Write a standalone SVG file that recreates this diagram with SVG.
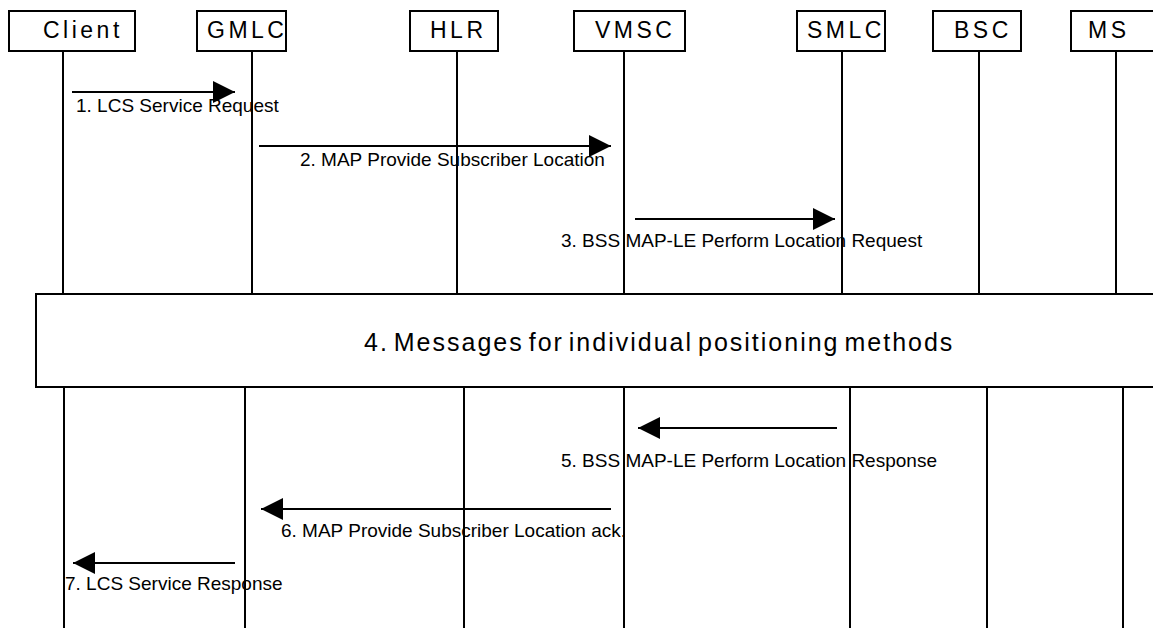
<svg xmlns="http://www.w3.org/2000/svg" width="1153" height="628" viewBox="0 0 1153 628">
<style>
.box{fill:#fff;stroke:#000;stroke-width:2}
.life{stroke:#000;stroke-width:2;fill:none}
.hdr{font-family:"Liberation Sans",Arial,sans-serif;font-size:23px;letter-spacing:3.5px;fill:#000}
.lbl{font-family:"Liberation Sans",Arial,sans-serif;font-size:19px;fill:#000}
.big{font-family:"Liberation Sans",Arial,sans-serif;font-size:25px;letter-spacing:2px;word-spacing:-4px;fill:#000}
.msg{stroke:#000;stroke-width:2;fill:none;marker-end:url(#ah)}
</style>
<defs>
<marker id="ah" markerUnits="userSpaceOnUse" markerWidth="22" markerHeight="22" refX="22" refY="11" orient="auto">
<path d="M0,0 L22,11 L0,22 z" fill="#000"/>
</marker>
</defs>
<rect width="1153" height="628" fill="#fff"/>
<g id="client">
<rect class="box" x="9" y="11" width="126" height="40"/>
<text class="hdr" x="43" y="38">Client</text>
<line class="life" x1="63" y1="51" x2="63" y2="294"/>
<line class="life" x1="64" y1="387" x2="64" y2="628"/>
</g>
<g id="gmlc">
<rect class="box" x="197" y="11" width="89" height="40"/>
<text class="hdr" x="207" y="38">GMLC</text>
<line class="life" x1="252" y1="51" x2="252" y2="294"/>
<line class="life" x1="245" y1="387" x2="245" y2="628"/>
</g>
<g id="hlr">
<rect class="box" x="410" y="11" width="88" height="40"/>
<text class="hdr" x="430" y="38">HLR</text>
<line class="life" x1="457" y1="51" x2="457" y2="294"/>
<line class="life" x1="464" y1="387" x2="464" y2="628"/>
</g>
<g id="vmsc">
<rect class="box" x="574" y="11" width="111" height="40"/>
<text class="hdr" x="595" y="38">VMSC</text>
<line class="life" x1="624" y1="51" x2="624" y2="294"/>
<line class="life" x1="624" y1="387" x2="624" y2="628"/>
</g>
<g id="smlc">
<rect class="box" x="797" y="11" width="88" height="40"/>
<text class="hdr" x="807" y="38">SMLC</text>
<line class="life" x1="842" y1="51" x2="842" y2="294"/>
<line class="life" x1="850" y1="387" x2="850" y2="628"/>
</g>
<g id="bsc">
<rect class="box" x="933" y="11" width="88" height="40"/>
<text class="hdr" x="954" y="38">BSC</text>
<line class="life" x1="979" y1="51" x2="979" y2="294"/>
<line class="life" x1="987" y1="387" x2="987" y2="628"/>
</g>
<g id="ms">
<rect class="box" x="1071" y="11" width="90" height="40"/>
<text class="hdr" x="1088" y="38">MS</text>
<line class="life" x1="1116" y1="51" x2="1116" y2="294"/>
<line class="life" x1="1123" y1="387" x2="1123" y2="628"/>
</g>
<g id="positioning">
<rect class="box" x="36" y="294" width="1130" height="93"/>
<text class="big" x="364" y="351">4. Messages for individual positioning methods</text>
</g>
<g id="connectors">
<line class="msg" x1="72" y1="92" x2="235" y2="92"/>
<text class="lbl" x="76" y="112">1. LCS Service Request</text>
<line class="msg" x1="259" y1="146" x2="611" y2="146"/>
<text class="lbl" x="300" y="166">2. MAP Provide Subscriber Location</text>
<line class="msg" x1="635" y1="219" x2="835" y2="219"/>
<text class="lbl" x="561" y="247">3. BSS MAP-LE Perform Location Request</text>
<line class="msg" x1="837" y1="428" x2="638" y2="428"/>
<text class="lbl" x="561" y="467">5. BSS MAP-LE Perform Location Response</text>
<line class="msg" x1="611" y1="509" x2="261" y2="509"/>
<text class="lbl" x="281" y="537">6. MAP Provide Subscriber Location ack.</text>
<line class="msg" x1="235" y1="563" x2="73" y2="563"/>
<text class="lbl" x="65" y="590">7. LCS Service Response</text>
</g>
</svg>
